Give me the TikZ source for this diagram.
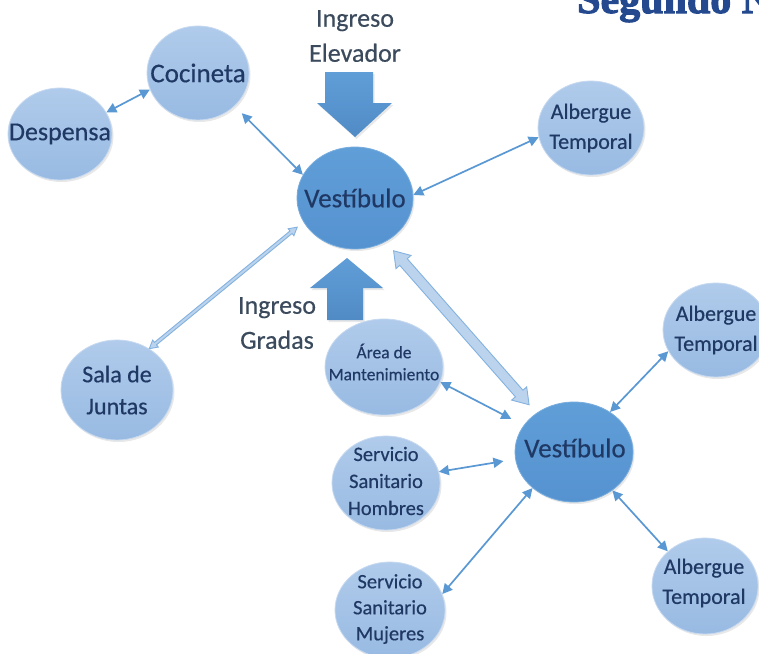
\documentclass[tikz,border=0pt]{standalone}
\usepackage{fontspec}
\setmainfont{Carlito}[FakeBold=0.4]
\newfontfamily\segfont[FakeBold=2.5]{Liberation Serif}
\usetikzlibrary{shapes.geometric,arrows.meta,calc,shadows}
\definecolor{navy}{HTML}{1F3864}
\definecolor{ingtext}{HTML}{3B4A5C}
\definecolor{lightA}{HTML}{B0CBEB}
\definecolor{lightB}{HTML}{98BAE2}
\definecolor{edgeL}{HTML}{C6D9F0}
\definecolor{darkA}{HTML}{609ED8}
\definecolor{darkB}{HTML}{5592D0}
\definecolor{arrblue}{HTML}{5A98D4}
\definecolor{segblue}{HTML}{24498F}
\newcommand\fsz[2]{\fontsize{#1}{#2}\selectfont}
% block arrow between two named coordinates: from, to, shaft half, head half, head length, style
\newcommand\blockarr[6]{%
  \pgfpointdiff{\pgfpointanchor{#1}{center}}{\pgfpointanchor{#2}{center}}%
  \pgfgetlastxy\baX\baY
  \pgfmathsetmacro\baAng{atan2(\baY,\baX)}%
  \pgfmathsetmacro\baLen{veclen(\baX,\baY)}%
  \begin{scope}[shift={(#1)},rotate=\baAng]
  \path[#6] (0pt,0pt) -- (#5,#4) -- (#5,#3) -- ({\baLen pt-#5},#3)
    -- ({\baLen pt-#5},#4) -- ({\baLen pt},0pt) -- ({\baLen pt-#5},-#4)
    -- ({\baLen pt-#5},-#3) -- (#5,-#3) -- (#5,-#4) -- cycle;
  \end{scope}}
\tikzset{
  softshadow/.style={drop shadow={opacity=0.18, shadow xshift=1.5pt, shadow yshift=-2pt}},
  lnode/.style={ellipse, inner sep=0pt, top color=lightA, bottom color=lightB,
    draw=edgeL, line width=0.8pt, softshadow},
  dnode/.style={ellipse, inner sep=0pt, top color=darkA, bottom color=darkB,
    draw=darkA!85!white, line width=0.8pt, softshadow},
  bubtext/.style={inner sep=0pt, text=navy, align=center},
  thinarr/.style={draw=arrblue, line width=1.7pt,
    {Triangle[length=10pt,width=10pt]}-{Triangle[length=10pt,width=10pt]}},
  bigarr/.style={top color=darkA, bottom color=darkB!95!black, draw=none, softshadow},
  hollowarr/.style={fill=lightA!85!white, draw=arrblue!75!white, line width=0.9pt},
  ingreso/.style={text=ingtext, align=center, font=\fsz{26}{35}}
}
\begin{document}
\begin{tikzpicture}[x=1pt,y=-1pt]
\clip (0,0) rectangle (759,653);
\fill[white] (0,0) rectangle (759,653);

% heading cut at the top edge
\node[anchor=base west, inner sep=0pt, text=segblue, font=\segfont\bfseries\fsz{42}{42}] (seg) at (577,13) {Segundo N};

% entrance arrows
\path[bigarr] (325,72) -- (373,72) -- (373,103) -- (392,103) -- (355,137) -- (317,103) -- (325,103) -- cycle;
\path[bigarr] (327,320) -- (363,320) -- (363,288) -- (383,288) -- (347,258) -- (310,288) -- (327,288) -- cycle;
\node[ingreso] (ingE) at (355,36) {Ingreso\\Elevador};
\node[ingreso] (ingG) at (277,323) {Ingreso\\Gradas};

% bubbles
\node[lnode, minimum width=102pt, minimum height=94pt] (coc) at (198,73) {};
\node[bubtext, font=\fsz{27}{30}] (coc-t) at (coc) {Cocineta};
\node[lnode, minimum width=104pt, minimum height=92pt] (desp) at (60,134) {};
\node[bubtext, font=\fsz{26}{30}] (desp-t) at (desp) {Despensa};
\node[dnode, minimum width=116pt, minimum height=102pt] (vA) at (355,198) {};
\node[bubtext, font=\fsz{27}{30}] (vA-t) at (vA) {Vestíbulo};
\node[lnode, minimum width=106pt, minimum height=94pt] (albA) at (591,128) {};
\node[bubtext, font=\fsz{22}{30}] (albA-t) at (albA) {Albergue\\Temporal};
\node[lnode, minimum width=112pt, minimum height=100pt] (sala) at (117,390) {};
\node[bubtext, font=\fsz{24}{32}] (sala-t) at (sala) {Sala de\\Juntas};
\node[lnode, minimum width=118pt, minimum height=96pt] (area) at (384,367) {};
\node[bubtext, font=\fsz{17.5}{22}] (area-t) at (384,362) {Área de\\Mantenimiento};
\node[lnode, minimum width=108pt, minimum height=94pt] (hom) at (386,483) {};
\node[bubtext, font=\fsz{20.5}{27}] (hom-t) at (386,481) {Servicio\\Sanitario\\Hombres};
\node[lnode, minimum width=110pt, minimum height=96pt] (muj) at (390,610) {};
\node[bubtext, font=\fsz{20.5}{26}] (muj-t) at (390,609) {Servicio\\Sanitario\\Mujeres};
\node[dnode, minimum width=118pt, minimum height=100pt] (vB) at (574,452) {};
\node[bubtext, font=\fsz{27}{30}] (vB-t) at (575,448) {Vestíbulo};
\node[lnode, minimum width=106pt, minimum height=94pt] (albR) at (716,330) {};
\node[bubtext, font=\fsz{22}{30}] (albR-t) at (albR) {Albergue\\Temporal};
\node[lnode, minimum width=106pt, minimum height=96pt] (albB) at (705,586) {};
\node[bubtext, font=\fsz{22}{30}] (albB-t) at (704,583) {Albergue\\Temporal};

% thin connectors
\draw[thinarr] (desp.25) -- (coc.199);
\draw[thinarr, shorten <=10pt] (coc.-42) -- (vA.156);
\draw[thinarr] (vA.3) -- (albA.190);
\draw[thinarr, shorten >=14pt] (area.-15) -- (vB.152);
\draw[thinarr, shorten >=12pt] (hom.12) -- (vB.187);
\draw[thinarr] (muj.17) -- (vB.221);
\draw[thinarr] (vB.48) -- (albR.204);
\draw[thinarr] (vB.-45) -- (albB.137);

% hollow connectors
\coordinate (s1) at (sala.52);
\coordinate (s2) at ($(vA.205)!8pt!(sala.52)$);
\blockarr{s1}{s2}{1.6pt}{4.5pt}{8pt}{hollowarr}
\coordinate (b1) at ($(vA.-55)!12pt!(vB.134)$);
\coordinate (b2) at ($(vB.134)!11pt!(vA.-55)$);
\blockarr{b1}{b2}{5pt}{10pt}{15pt}{hollowarr}
\end{tikzpicture}
\end{document}
